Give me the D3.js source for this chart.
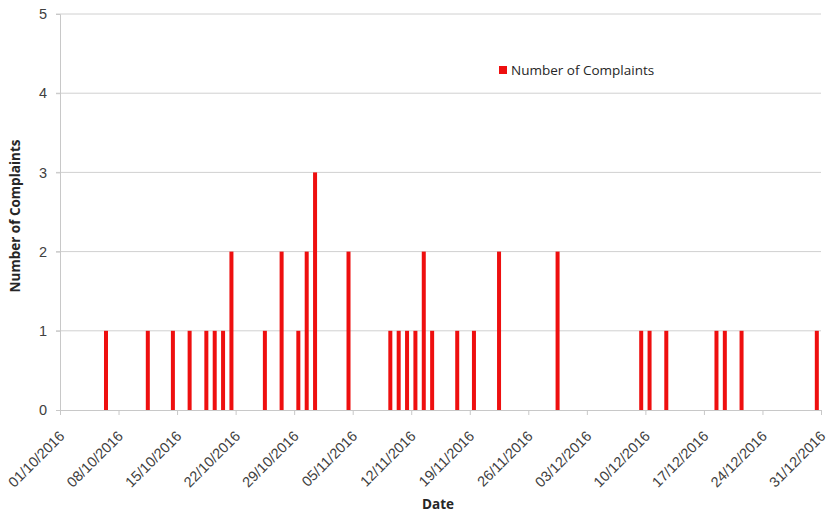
<!DOCTYPE html>
<html>
<head>
<meta charset="utf-8">
<script src="https://cdn.jsdelivr.net/npm/d3@7"></script>
<style>
  body { margin: 0; background: #fff; }
  svg { font-family: "Open Sans", sans-serif; }
  .grid line { stroke: #d0d0d0; }
  .axis path, .axis line { stroke: #c8c8c8; }
  .axis text { fill: #404040; font-size: 14.5px; }
</style>
</head>
<body>
<svg id="chart" width="828" height="515"></svg>
<script>
  // complaint dates and counts
  var dates = ['06/10/2016', '11/10/2016', '14/10/2016', '16/10/2016', '18/10/2016',
               '19/10/2016', '20/10/2016', '21/10/2016', '25/10/2016', '27/10/2016',
               '29/10/2016', '30/10/2016', '31/10/2016', '04/11/2016', '09/11/2016',
               '10/11/2016', '11/11/2016', '12/11/2016', '13/11/2016', '14/11/2016',
               '17/11/2016', '19/11/2016', '22/11/2016', '29/11/2016', '09/12/2016',
               '10/12/2016', '12/12/2016', '18/12/2016', '19/12/2016', '21/12/2016',
               '30/12/2016'];
  var complaints = [1, 1, 1, 1, 1,
                    1, 1, 2, 1, 2,
                    1, 2, 3, 2, 1,
                    1, 1, 1, 2, 1,
                    1, 1, 2, 2, 1,
                    1, 1, 1, 1, 1,
                    1];
  var tickLabels = ['01/10/2016', '08/10/2016', '15/10/2016', '22/10/2016', '29/10/2016',
                    '05/11/2016', '12/11/2016', '19/11/2016', '26/11/2016', '03/12/2016',
                    '10/12/2016', '17/12/2016', '24/12/2016', '31/12/2016'];
  var yTicks = [0, 1, 2, 3, 4, 5];
  var seriesName = 'Number of Complaints';

  var parse = d3.utcParse('%d/%m/%Y'),
      fmt = d3.utcFormat('%d/%m/%Y');

  var data = dates.map(function (d, i) {
    return {date: parse(d), value: complaints[i]};
  });
  var tickDates = tickLabels.map(parse);

  var svg = d3.select('#chart'),
      margin = {top: 14, right: 7, bottom: 105, left: 60},
      width = +svg.attr('width') - margin.left - margin.right,
      height = +svg.attr('height') - margin.top - margin.bottom,
      g = svg.append('g').attr('transform', 'translate(' + margin.left + ',' + margin.top + ')');

  var x = d3.scaleUtc()
      .domain([tickDates[0], tickDates[tickDates.length - 1]])
      .range([0, width]);

  var y = d3.scaleLinear()
      .domain([0, 5])
      .range([height, 0]);

  // bars sit in the middle of their day
  var halfDay = (x(d3.utcDay.offset(tickDates[0], 1)) - x(tickDates[0])) / 2;
  var barWidth = 4;

  // horizontal gridlines
  g.append('g')
      .attr('class', 'grid')
    .selectAll('line')
      .data(yTicks.slice(1))
    .enter().append('line')
      .attr('x1', -4)
      .attr('x2', width)
      .attr('y1', function (d) { return y(d); })
      .attr('y2', function (d) { return y(d); });

  // y axis
  g.append('g')
      .attr('class', 'y axis')
      .call(d3.axisLeft(y).tickValues(yTicks).tickSize(4).tickPadding(9).tickFormat(d3.format('d')));

  // x axis
  var xAxis = g.append('g')
      .attr('class', 'x axis')
      .attr('transform', 'translate(0,' + height + ')')
      .call(d3.axisBottom(x).tickValues(tickDates).tickSize(5).tickFormat(fmt));

  xAxis.selectAll('text')
      .attr('text-anchor', 'end')
      .attr('dy', null)
      .attr('y', null)
      .attr('transform', 'translate(5,27) rotate(-45)');

  // bars
  g.selectAll('.bar')
      .data(data)
    .enter().append('rect')
      .attr('class', 'bar')
      .attr('x', function (d) { return x(d.date) + halfDay - barWidth / 2; })
      .attr('y', function (d) { return y(d.value); })
      .attr('width', barWidth)
      .attr('height', function (d) { return height - y(d.value); })
      .attr('fill', '#ee0f0f');

  // axis titles
  svg.append('text')
      .attr('transform', 'translate(20,216) rotate(-90)')
      .attr('text-anchor', 'middle')
      .style('font-size', '13.5px')
      .style('font-weight', 'bold')
      .style('fill', '#262626')
      .text(seriesName);

  svg.append('text')
      .attr('x', 438)
      .attr('y', 509)
      .attr('text-anchor', 'middle')
      .style('font-size', '13.5px')
      .style('font-weight', 'bold')
      .style('fill', '#262626')
      .text('Date');

  // legend
  var legend = svg.append('g').attr('transform', 'translate(499,66)');
  legend.append('rect')
      .attr('width', 8)
      .attr('height', 8)
      .attr('fill', '#ee0f0f');
  legend.append('text')
      .attr('x', 12)
      .attr('y', 9)
      .style('font-size', '13.5px')
      .style('fill', '#262626')
      .text(seriesName);
</script>
</body>
</html>
